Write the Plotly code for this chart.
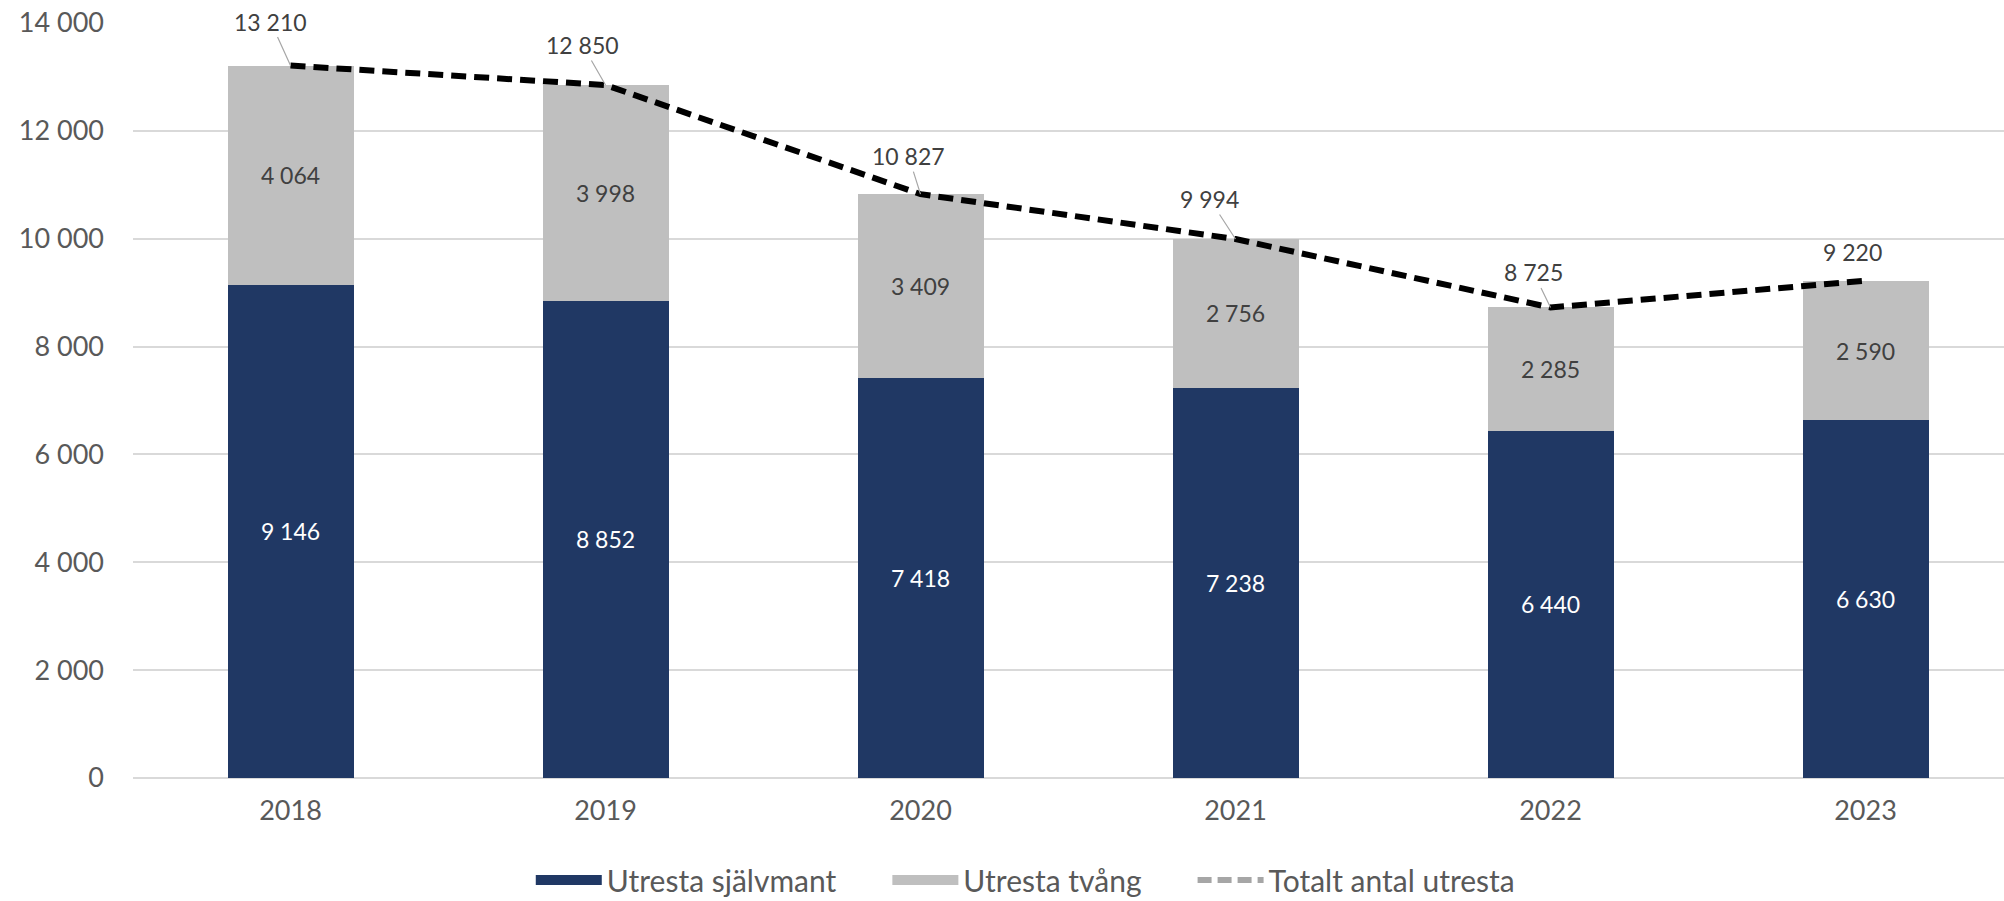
import plotly.graph_objects as go

years = ["2018", "2019", "2020", "2021", "2022", "2023"]
sjalvmant = [9146, 8852, 7418, 7238, 6440, 6630]
tvang = [4064, 3998, 3409, 2756, 2285, 2590]
totalt = [13210, 12850, 10827, 9994, 8725, 9220]
legend_names = ["Utresta självmant", "Utresta tvång", "Totalt antal utresta"]

# label offsets (pixels) for total labels
lab_dx = [-20, -23, -12, -26, -17, -13]
lab_dy = [-44, -40, -38, -40, -35, -29]
lab_arrow = [True, True, True, True, True, False]

FONT = "Lato"
NAVY = "#203864"
GREY = "#BFBFBF"
PAD = "\u00a0" * 6 + "\u200b"
fig = go.Figure()
fig.add_trace(go.Bar(
    x=years, y=sjalvmant, name=legend_names[0], showlegend=False,
    marker=dict(color=NAVY, line=dict(width=0)),
    texttemplate="%{y:,}", textposition="inside", insidetextanchor="middle",
    textfont=dict(family=FONT, size=23, color="#FFFFFF"),
))
fig.add_trace(go.Bar(
    x=years, y=tvang, name=legend_names[1], showlegend=False,
    marker=dict(color=GREY, line=dict(width=0)),
    texttemplate="%{y:,}", textposition="inside", insidetextanchor="middle",
    textfont=dict(family=FONT, size=23, color="#404040"),
))
fig.add_trace(go.Scatter(
    x=years, y=totalt, mode="lines", name=legend_names[2],
    line=dict(color="#000000", width=6, dash="15px,8px"),
    showlegend=False,
))
# legend entries styled like the reference (wide swatches, grey dashed line)
fig.add_trace(go.Scatter(
    x=[None], y=[None], mode="lines", name=legend_names[0] + PAD,
    line=dict(color=NAVY, width=20),
))
fig.add_trace(go.Scatter(
    x=[None], y=[None], mode="lines", name=legend_names[1] + PAD,
    line=dict(color=GREY, width=20),
))
fig.add_trace(go.Scatter(
    x=[None], y=[None], mode="lines", name=legend_names[2],
    line=dict(color="#A6A6A6", width=6, dash="14px,6px"),
))

for i, v in enumerate(totalt):
    txt = f"{v:,}".replace(",", " ")
    if lab_arrow[i]:
        fig.add_annotation(
            x=i, y=v, xref="x", yref="y", text=txt,
            showarrow=True, arrowhead=0, arrowwidth=1.2, arrowcolor="#A6A6A6",
            ax=lab_dx[i], ay=lab_dy[i], standoff=0,
            font=dict(family=FONT, size=23, color="#404040"),
        )
    else:
        fig.add_annotation(
            x=i, y=v, xref="x", yref="y", text=txt,
            showarrow=False, xshift=lab_dx[i], yshift=-lab_dy[i],
            font=dict(family=FONT, size=23, color="#404040"),
        )

n_vis = 1871 / 315.0
fig.update_layout(
    width=2004, height=901,
    barmode="stack", bargap=0.6,
    separators=". ",
    paper_bgcolor="white", plot_bgcolor="white",
    margin=dict(l=133, r=0, t=23, b=123, autoexpand=False),
    font=dict(family=FONT, color="#595959"),
    legend=dict(
        orientation="h", x=0.2126, xanchor="left", y=-0.135, yanchor="middle",
        font=dict(family=FONT, size=30, color="#595959"),
        itemwidth=66, traceorder="normal",
    ),
    xaxis=dict(
        type="category", range=[-0.5, -0.5 + n_vis], automargin=False,
        showgrid=False, showline=False, zeroline=False,
        tickfont=dict(family=FONT, size=27, color="#595959"),
        ticklabelstandoff=14,
    ),
    yaxis=dict(
        range=[0, 14000], dtick=2000, tickformat=",", automargin=False,
        showgrid=True, gridcolor="#D9D9D9", gridwidth=2,
        zeroline=True, zerolinecolor="#D9D9D9", zerolinewidth=2,
        showline=False, ticklabeloverflow="allow",
        tickfont=dict(family=FONT, size=27, color="#595959"),
        ticklabelstandoff=28,
    ),
)

fig.write_html(
    "out.html",
    config={"displayModeBar": False},
    post_script="document.body.style.margin='0';document.body.style.overflow='hidden';",
)
